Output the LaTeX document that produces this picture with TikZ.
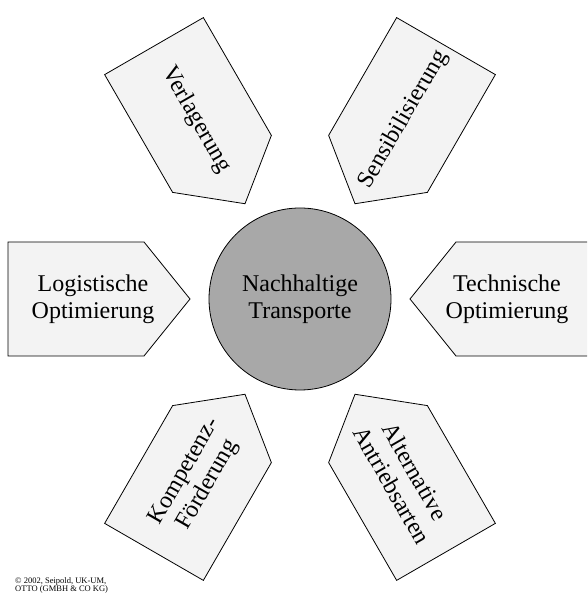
\documentclass[tikz,border=0pt]{standalone}
\usepackage{fontspec}
\setmainfont{Liberation Serif}
\usepackage{tikz}
\usepackage{xcolor}
\definecolor{pfeilgrau}{HTML}{F3F3F3}
\definecolor{kreisgrau}{HTML}{A8A8A8}

\begin{document}
\begin{tikzpicture}[x=1pt,y=1pt]%
  \tikzstyle{pfeil}=[draw=black,fill=pfeilgrau,line width=0.8pt,line join=miter]
  \tikzstyle{beschr}=[align=center,font=\fontsize{24}{27}\selectfont,inner sep=0]
  \tikzstyle{kreis}=[circle,draw=black,fill=kreisgrau,line width=0.8pt,minimum size=182pt,inner sep=0]
  \tikzstyle{quelle}=[align=left,font=\fontsize{8.5}{7.5}\selectfont,inner sep=0,anchor=north west]
  \clip (0,0) rectangle (587,593);
  \coordinate (M) at (300,294);
  \node(mitte)[kreis,beschr] at (M) {Nachhaltige\\Transporte};
  \foreach \winkel/\dreh/\nm/\text in {180/0/logistik/{Logistische\\Optimierung},
      0/0/technik/{Technische\\Optimierung}, 60/60/sensi/Sensibilisierung,
      120/-60/verlag/Verlagerung, 240/60/kompetenz/{Kompetenz-\\Förderung},
      300/-60/antrieb/{Alternative\\Antriebsarten}}{
    \begin{scope}[shift={(M)},rotate=\winkel]
      \draw[pfeil] (110,0) -- (156,57) -- (292,57) -- (292,-57) -- (156,-57) -- cycle;
      \node(\nm)[beschr,rotate=\dreh] at (207,0) {\text};
    \end{scope}
  }
  \node(copyright)[quelle] at (15,16) {© 2002, Seipold, UK-UM,\\OTTO (GMBH \& CO KG)};
\end{tikzpicture}
\end{document}
